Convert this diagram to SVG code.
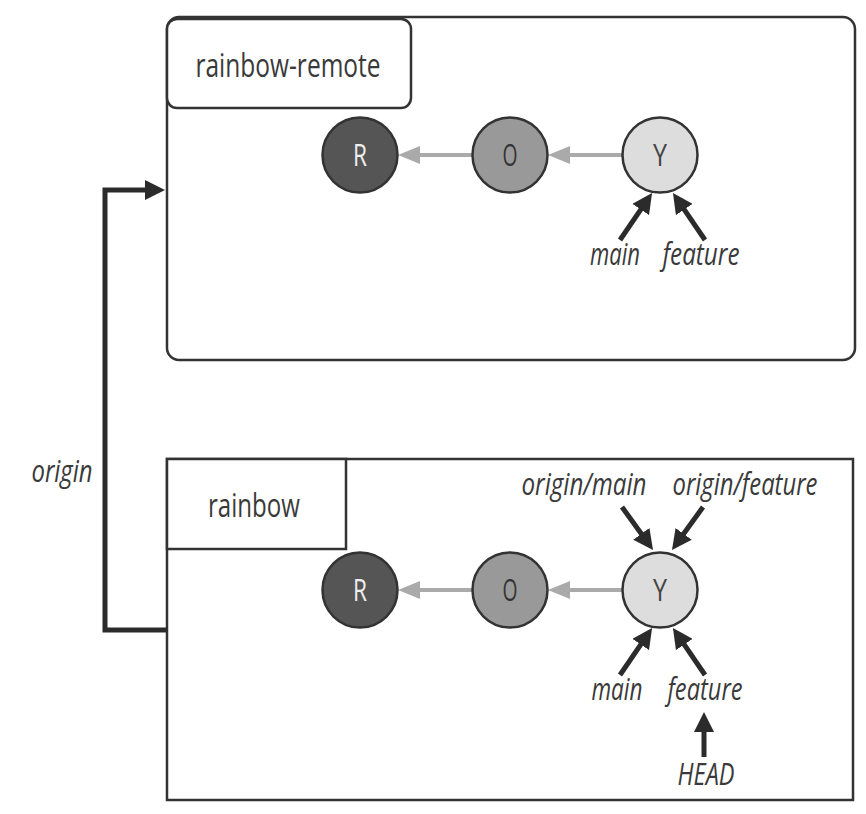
<svg xmlns="http://www.w3.org/2000/svg" width="866" height="814" viewBox="0 0 866 814">
<style>
.box{fill:#fff;stroke:#333;stroke-width:2.5}
.lbl{font-family:"Open Sans","Liberation Sans",sans-serif;font-size:32px;fill:#3a3a3a;text-anchor:middle}
.ital{font-family:"Open Sans","Liberation Sans",sans-serif;font-style:italic;font-size:31px;fill:#3a3a3a;text-anchor:middle}
.cl{font-family:"Open Sans","Liberation Sans",sans-serif;font-size:31px;text-anchor:middle}
.c{stroke:#333;stroke-width:2.5}
.ga{stroke:#aaa;stroke-width:4;fill:none}
.ba{stroke:#2b2b2b;stroke-width:5;fill:none}
</style>
<defs>
<marker id="gh" viewBox="0 0 22 18" refX="0" refY="9" markerWidth="22" markerHeight="18" markerUnits="userSpaceOnUse" orient="auto"><path d="M0,0 L22,9 L0,18 z" fill="#aaa"/></marker>
<marker id="bh" viewBox="0 0 20 20" refX="8" refY="10" markerWidth="20" markerHeight="20" markerUnits="userSpaceOnUse" orient="auto"><path d="M0,0 L20,10 L0,20 z" fill="#2b2b2b"/></marker>
</defs>
<g id="rainbow-remote">
<rect class="box" x="167" y="17" width="688" height="343" rx="12"/>
<rect class="box" x="167" y="19" width="244" height="89" rx="10"/>
<text class="lbl" x="288" y="77" textLength="185" lengthAdjust="spacingAndGlyphs">rainbow-remote</text>
</g>
<g id="rainbow">
<rect class="box" x="167" y="459" width="686" height="341"/>
<rect class="box" x="167" y="459" width="179" height="90"/>
<text class="lbl" x="254" y="517" textLength="92" lengthAdjust="spacingAndGlyphs">rainbow</text>
</g>
<g id="connectors">
<line class="ga" x1="472" y1="155" x2="420" y2="155" marker-end="url(#gh)"/>
<line class="ga" x1="622" y1="155" x2="570" y2="155" marker-end="url(#gh)"/>
<line class="ga" x1="472" y1="590" x2="420" y2="590" marker-end="url(#gh)"/>
<line class="ga" x1="622" y1="590" x2="570" y2="590" marker-end="url(#gh)"/>
<line class="ba" x1="620" y1="240" x2="645.3" y2="202.9" marker-end="url(#bh)"/>
<line class="ba" x1="705" y1="240" x2="679.7" y2="202.9" marker-end="url(#bh)"/>
<line class="ba" x1="622" y1="507" x2="646" y2="540.3" marker-end="url(#bh)"/>
<line class="ba" x1="703" y1="507" x2="679" y2="540.3" marker-end="url(#bh)"/>
<line class="ba" x1="620" y1="675" x2="645.3" y2="637.9" marker-end="url(#bh)"/>
<line class="ba" x1="705" y1="675" x2="679.7" y2="637.9" marker-end="url(#bh)"/>
<line class="ba" x1="704" y1="757" x2="704" y2="724" marker-end="url(#bh)"/>
<path class="ba" d="M167,630 H105 V190 H153" marker-end="url(#bh)"/>
<text class="ital" x="62" y="482" textLength="61" lengthAdjust="spacingAndGlyphs">origin</text>
</g>
<g id="top-R"><circle class="c" cx="360" cy="155" r="37.5" fill="#555"/><text class="cl" x="360" y="166" fill="#eee" textLength="14" lengthAdjust="spacingAndGlyphs">R</text></g>
<g id="top-O"><circle class="c" cx="510" cy="155" r="37.5" fill="#999"/><text class="cl" x="510" y="166" fill="#333" textLength="15" lengthAdjust="spacingAndGlyphs">O</text></g>
<g id="top-Y"><circle class="c" cx="660" cy="155" r="37.5" fill="#ddd"/><text class="cl" x="660" y="166" fill="#444" textLength="14" lengthAdjust="spacingAndGlyphs">Y</text></g>
<g id="top-labels">
<text class="ital" x="615" y="265" textLength="50" lengthAdjust="spacingAndGlyphs">main</text>
<text class="ital" x="701" y="265" textLength="77" lengthAdjust="spacingAndGlyphs">feature</text>
</g>
<g id="bot-R"><circle class="c" cx="360" cy="590" r="37.5" fill="#555"/><text class="cl" x="360" y="601" fill="#eee" textLength="14" lengthAdjust="spacingAndGlyphs">R</text></g>
<g id="bot-O"><circle class="c" cx="510" cy="590" r="37.5" fill="#999"/><text class="cl" x="510" y="601" fill="#333" textLength="15" lengthAdjust="spacingAndGlyphs">O</text></g>
<g id="bot-Y"><circle class="c" cx="660" cy="590" r="37.5" fill="#ddd"/><text class="cl" x="660" y="601" fill="#444" textLength="14" lengthAdjust="spacingAndGlyphs">Y</text></g>
<g id="bot-labels">
<text class="ital" x="584" y="495" textLength="125" lengthAdjust="spacingAndGlyphs">origin/main</text>
<text class="ital" x="745" y="495" textLength="145" lengthAdjust="spacingAndGlyphs">origin/feature</text>
<text class="ital" x="617" y="700" textLength="51" lengthAdjust="spacingAndGlyphs">main</text>
<text class="ital" x="705" y="700" textLength="75" lengthAdjust="spacingAndGlyphs">feature</text>
<text class="ital" x="706" y="785" textLength="57" lengthAdjust="spacingAndGlyphs">HEAD</text>
</g>
</svg>
